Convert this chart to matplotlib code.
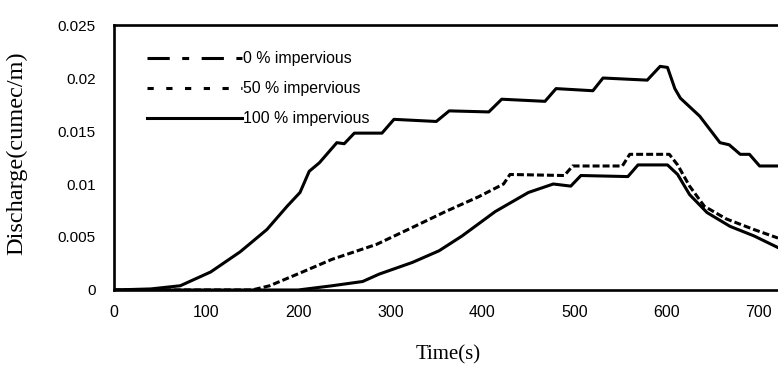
import matplotlib.pyplot as plt
from matplotlib.lines import Line2D

# ==============================================
# DADOS
# ==============================================
t_100 = [0, 40, 72, 105, 137, 166, 188, 202, 212, 223, 242, 250, 261, 291, 304,
         350, 364, 407, 421, 468, 480, 520, 531, 579, 593, 601, 609, 615, 636,
         658, 668, 680, 690, 701, 721]
q_100 = [0, 0.0001, 0.0004, 0.0017, 0.0036, 0.0057, 0.0079, 0.0092, 0.0112,
         0.0120, 0.0139, 0.0138, 0.0148, 0.0148, 0.0161, 0.0159, 0.0169, 0.0168,
         0.0180, 0.0178, 0.0190, 0.0188, 0.0200, 0.0198, 0.0211, 0.0210, 0.0190,
         0.0181, 0.0164, 0.0139, 0.0137, 0.0128, 0.0128, 0.0117, 0.0117]

t_50 = [0, 150, 169, 202, 237, 285, 324, 360, 396, 423, 430, 489, 498, 552, 560,
        603, 612, 625, 641, 665, 695, 721]
q_50 = [0, 0, 0.0004, 0.0016, 0.0029, 0.0043, 0.0059, 0.0074, 0.0088, 0.0100,
        0.0109, 0.0108, 0.0117, 0.0117, 0.0128, 0.0128, 0.0118, 0.0098, 0.0079,
        0.0067, 0.0057, 0.0049]

t_0 = [0, 200, 237, 270, 288, 324, 353, 378, 414, 450, 477, 496, 507, 558, 569,
       601, 612, 625, 644, 669, 695, 721]
q_0 = [0, 0, 0.0004, 0.0008, 0.0015, 0.0026, 0.0037, 0.0051, 0.0074, 0.0092,
       0.0100, 0.0098, 0.0108, 0.0107, 0.0118, 0.0118, 0.0109, 0.0090, 0.0073,
       0.0060, 0.0051, 0.0040]

labels = ["0 % impervious", "50 % impervious", "100 % impervious"]
xticks = [0, 100, 200, 300, 400, 500, 600, 700]
yticks = [0, 0.005, 0.01, 0.015, 0.02, 0.025]
yticklabels = ["0", "0.005", "0.01", "0.015", "0.02", "0.025"]

# ==============================================
# FIGURA
# ==============================================
plt.rcParams['lines.scale_dashes'] = False

fig = plt.figure(figsize=(7.78, 3.68), dpi=100)
ax = fig.add_axes([0.1465, 0.212, 0.8535, 0.72])

lw = 2.2
kw = dict(color="black", lw=lw, solid_joinstyle="round", dash_joinstyle="round")
ax.plot(t_0, q_0, **kw)
ax.plot(t_50, q_50, dashes=(5, 2.2), **kw)
ax.plot(t_100, q_100, **kw)

ax.set_xlim(0, 721)
ax.set_ylim(0, 0.025)
ax.set_xticks(xticks)
ax.set_yticks(yticks)
ax.set_yticklabels(yticklabels)
ax.tick_params(axis="x", length=0, pad=11, labelsize=11.5)
ax.tick_params(axis="y", length=0, pad=13, labelsize=11)
for lab in ax.get_xticklabels() + ax.get_yticklabels():
    lab.set_fontfamily("Liberation Sans")

for side in ["left", "top", "bottom"]:
    ax.spines[side].set_linewidth(1.9)
ax.spines["right"].set_visible(False)

# legenda com marcadores próprios
handles = [
    Line2D([], [], color="black", lw=lw, dashes=(16, 9, 5, 9)),
    Line2D([], [], color="black", lw=lw, dashes=(4.5, 9)),
    Line2D([], [], color="black", lw=lw),
]
ax.legend(handles, labels, loc="upper left", bbox_to_anchor=(0.028, 0.955),
          frameon=False, handlelength=6.0, handletextpad=0.1, labelspacing=0.95,
          prop={"family": "Liberation Sans", "size": 11.4})

fig.text(0.576, 0.035, "Time(s)", ha="center", va="center",
         fontfamily="Liberation Serif", fontsize=15)
fig.text(0.021, 0.585, "Discharge(cumec/m)", ha="center", va="center",
         rotation=90, fontfamily="Liberation Serif", fontsize=17.5)

fig.savefig("out.png", dpi=100)
